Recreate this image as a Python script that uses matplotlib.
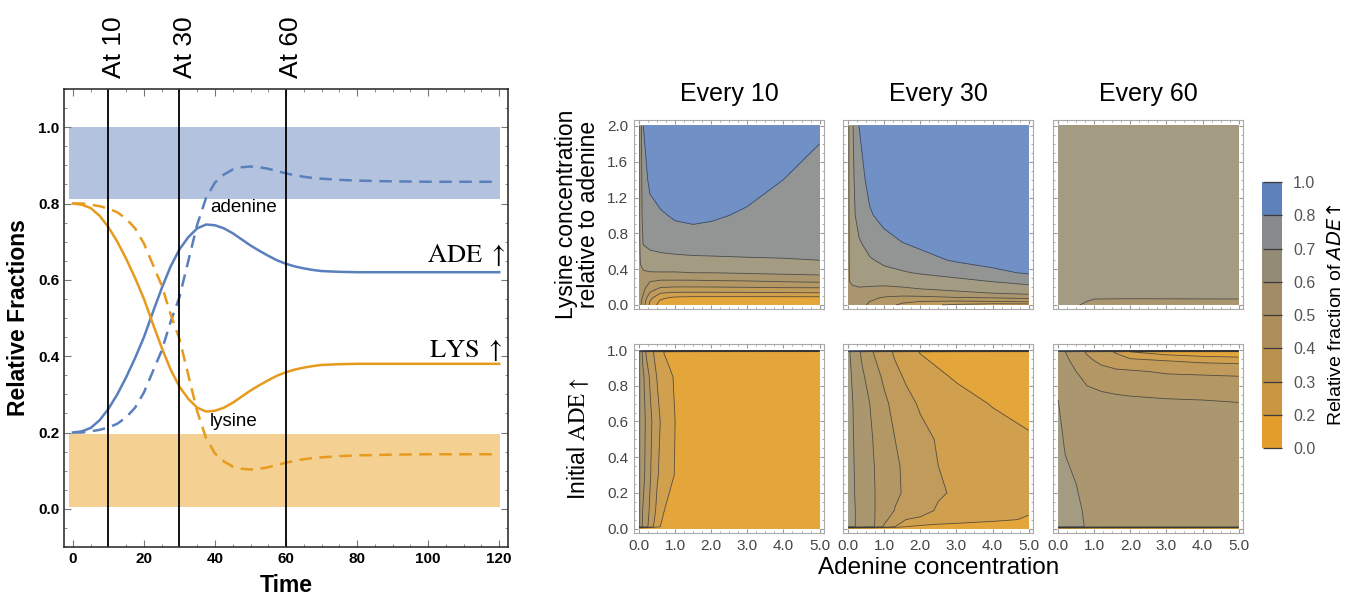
import numpy as np
import matplotlib as mpl
import matplotlib.pyplot as plt
from matplotlib.colors import ListedColormap, BoundaryNorm
from matplotlib.ticker import MultipleLocator

plt.rcParams['font.family'] = ['Liberation Sans', 'DejaVu Sans']

# ---- left panel: time courses ----
time = [0, 2.5, 5, 7.5, 10, 12.5, 15, 17.5, 20, 22.5, 25, 27.5, 30, 32.5, 35, 37.5, 40,
        42.5, 45, 47.5, 50, 52.5, 55, 57.5, 60, 62.5, 65, 67.5, 70, 75, 80, 90, 100, 110, 120]
ade_up = [0.200, 0.203, 0.212, 0.232, 0.262, 0.300, 0.345, 0.395, 0.450, 0.515, 0.578, 0.635,
          0.680, 0.712, 0.735, 0.745, 0.743, 0.735, 0.722, 0.706, 0.690, 0.676, 0.663, 0.651,
          0.642, 0.635, 0.630, 0.626, 0.623, 0.621, 0.620, 0.620, 0.620, 0.620, 0.620]
lys_up = [0.800, 0.797, 0.788, 0.768, 0.738, 0.700, 0.655, 0.605, 0.550, 0.485, 0.422, 0.365,
          0.320, 0.288, 0.265, 0.255, 0.257, 0.265, 0.278, 0.294, 0.310, 0.324, 0.337, 0.349,
          0.358, 0.365, 0.370, 0.374, 0.377, 0.379, 0.380, 0.380, 0.380, 0.380, 0.380]
adenine = [0.200, 0.200, 0.203, 0.207, 0.213, 0.223, 0.240, 0.265, 0.305, 0.360, 0.415, 0.490,
           0.555, 0.650, 0.745, 0.815, 0.855, 0.876, 0.889, 0.895, 0.897, 0.895, 0.891, 0.885,
           0.879, 0.874, 0.870, 0.867, 0.865, 0.862, 0.860, 0.858, 0.857, 0.857, 0.857]
lysine = [0.800, 0.800, 0.797, 0.793, 0.787, 0.777, 0.760, 0.735, 0.695, 0.640, 0.585, 0.510,
          0.445, 0.350, 0.255, 0.185, 0.145, 0.124, 0.111, 0.105, 0.103, 0.105, 0.109, 0.115,
          0.121, 0.126, 0.130, 0.133, 0.135, 0.138, 0.140, 0.142, 0.143, 0.143, 0.143]
band_t = [-1.2, 120.3]
ade_band = [0.813, 1.0]
lys_band = [0.006, 0.197]
sample_times = [10, 30, 60]

# ---- right panels: relative fraction of ADE-up ----
levels = [0.0, 0.2, 0.3, 0.4, 0.5, 0.6, 0.7, 0.8, 1.0]

xa = [0, 0.04, 0.12, 0.3, 0.6, 1.0, 1.5, 2.0, 3.0, 4.0, 5.0]
ya = [0, 0.04, 0.08, 0.12, 0.18, 0.26, 0.36, 0.5, 0.7, 1.0, 1.4, 2.0]
every10_lys = [
    [0.55, 0.52, 0.44, 0.28, 0.15, 0.08, 0.06, 0.05, 0.05, 0.05, 0.05],
    [0.55, 0.53, 0.45, 0.30, 0.18, 0.12, 0.10, 0.10, 0.10, 0.10, 0.10],
    [0.55, 0.54, 0.47, 0.33, 0.22, 0.18, 0.17, 0.17, 0.17, 0.17, 0.17],
    [0.55, 0.55, 0.50, 0.38, 0.28, 0.26, 0.26, 0.26, 0.26, 0.265, 0.27],
    [0.55, 0.55, 0.52, 0.44, 0.38, 0.37, 0.37, 0.37, 0.375, 0.38, 0.38],
    [0.55, 0.55, 0.54, 0.50, 0.48, 0.48, 0.48, 0.485, 0.49, 0.50, 0.51],
    [0.55, 0.58, 0.59, 0.595, 0.595, 0.595, 0.60, 0.60, 0.61, 0.62, 0.63],
    [0.55, 0.61, 0.64, 0.66, 0.67, 0.67, 0.675, 0.68, 0.69, 0.695, 0.70],
    [0.55, 0.64, 0.71, 0.73, 0.74, 0.76, 0.77, 0.765, 0.75, 0.74, 0.73],
    [0.55, 0.65, 0.74, 0.77, 0.79, 0.81, 0.815, 0.81, 0.79, 0.77, 0.76],
    [0.55, 0.65, 0.76, 0.82, 0.85, 0.87, 0.87, 0.86, 0.83, 0.80, 0.78],
    [0.55, 0.65, 0.80, 0.85, 0.88, 0.90, 0.90, 0.89, 0.87, 0.84, 0.81],
]
every30_lys = [
    [0.55, 0.56, 0.55, 0.52, 0.49, 0.44, 0.38, 0.33, 0.28, 0.25, 0.25],
    [0.55, 0.565, 0.56, 0.53, 0.50, 0.46, 0.42, 0.40, 0.39, 0.40, 0.42],
    [0.55, 0.57, 0.57, 0.54, 0.52, 0.49, 0.47, 0.47, 0.49, 0.50, 0.52],
    [0.55, 0.58, 0.58, 0.56, 0.55, 0.53, 0.53, 0.54, 0.57, 0.59, 0.60],
    [0.55, 0.59, 0.59, 0.595, 0.59, 0.585, 0.59, 0.60, 0.62, 0.64, 0.66],
    [0.55, 0.60, 0.61, 0.615, 0.62, 0.62, 0.63, 0.64, 0.67, 0.70, 0.73],
    [0.55, 0.61, 0.63, 0.645, 0.66, 0.675, 0.69, 0.71, 0.74, 0.78, 0.81],
    [0.55, 0.62, 0.64, 0.66, 0.69, 0.72, 0.75, 0.77, 0.81, 0.83, 0.84],
    [0.55, 0.62, 0.65, 0.69, 0.74, 0.77, 0.80, 0.82, 0.85, 0.86, 0.87],
    [0.55, 0.63, 0.67, 0.74, 0.79, 0.83, 0.86, 0.88, 0.90, 0.91, 0.91],
    [0.55, 0.64, 0.68, 0.76, 0.83, 0.87, 0.90, 0.91, 0.92, 0.93, 0.93],
    [0.55, 0.64, 0.69, 0.80, 0.86, 0.90, 0.92, 0.93, 0.94, 0.95, 0.95],
]
xc = [0, 0.3, 0.6, 1.0, 2.0, 5.0]
yc = [0, 0.04, 0.08, 0.2, 2.0]
every60_lys = [
    [0.65, 0.63, 0.60, 0.56, 0.55, 0.56],
    [0.65, 0.64, 0.62, 0.58, 0.57, 0.58],
    [0.65, 0.645, 0.63, 0.61, 0.61, 0.61],
    [0.65, 0.65, 0.65, 0.65, 0.65, 0.65],
    [0.65, 0.65, 0.65, 0.65, 0.65, 0.65],
]

xd = [0, 0.02, 0.1, 0.2, 0.3, 0.4, 0.5, 0.6, 0.7, 0.8, 1.0, 1.2, 2.0, 5.0]
yd = [0, 0.01, 0.1, 0.3, 0.6, 0.85, 0.99, 1.0]
every10_init = [
    [0.0] * 14,
    [0.65, 0.6, 0.488, 0.429, 0.367, 0.30, 0.244, 0.195, 0.18, 0.17, 0.155, 0.14, 0.10, 0.08],
    [0.65, 0.6, 0.50, 0.444, 0.388, 0.329, 0.28, 0.24, 0.20, 0.18, 0.16, 0.14, 0.10, 0.08],
    [0.65, 0.6, 0.538, 0.471, 0.412, 0.36, 0.31, 0.281, 0.258, 0.235, 0.195, 0.165, 0.10, 0.08],
    [0.65, 0.6, 0.547, 0.483, 0.428, 0.378, 0.335, 0.295, 0.271, 0.248, 0.20, 0.17, 0.10, 0.08],
    [0.65, 0.6, 0.527, 0.453, 0.39, 0.34, 0.295, 0.271, 0.248, 0.224, 0.19, 0.16, 0.10, 0.08],
    [0.65, 0.6, 0.478, 0.387, 0.343, 0.30, 0.263, 0.226, 0.195, 0.18, 0.16, 0.14, 0.10, 0.08],
    [1.0] * 14,
]
xe = [0, 0.05, 0.2, 0.4, 0.7, 1.0, 1.3, 1.6, 2.0, 2.5, 3.0, 4.0, 5.0]
ye = [0, 0.01, 0.05, 0.1, 0.2, 0.35, 0.5, 0.7, 0.85, 0.99, 1.0]
every30_init = [
    [0.0] * 13,
    [0.65, 0.638, 0.60, 0.566, 0.514, 0.386, 0.30, 0.20, 0.18, 0.16, 0.15, 0.13, 0.12],
    [0.65, 0.638, 0.60, 0.565, 0.512, 0.421, 0.356, 0.30, 0.287, 0.271, 0.255, 0.223, 0.19],
    [0.65, 0.638, 0.60, 0.564, 0.509, 0.45, 0.395, 0.367, 0.329, 0.29, 0.27, 0.24, 0.21],
    [0.65, 0.635, 0.595, 0.56, 0.507, 0.462, 0.419, 0.385, 0.354, 0.309, 0.29, 0.26, 0.23],
    [0.65, 0.633, 0.591, 0.556, 0.504, 0.459, 0.415, 0.382, 0.345, 0.30, 0.285, 0.257, 0.23],
    [0.65, 0.63, 0.586, 0.55, 0.497, 0.448, 0.40, 0.368, 0.326, 0.292, 0.272, 0.24, 0.21],
    [0.65, 0.625, 0.58, 0.54, 0.48, 0.42, 0.371, 0.329, 0.289, 0.262, 0.235, 0.195, 0.17],
    [0.65, 0.614, 0.566, 0.513, 0.444, 0.382, 0.327, 0.288, 0.256, 0.216, 0.19, 0.16, 0.14],
    [0.65, 0.60, 0.544, 0.478, 0.398, 0.339, 0.286, 0.245, 0.195, 0.17, 0.15, 0.12, 0.10],
    [1.0] * 13,
]
xf = [0, 0.2, 0.5, 0.8, 1.2, 1.6, 2.0, 3.0, 4.0, 5.0]
yf = [0, 0.01, 0.1, 0.25, 0.45, 0.6, 0.72, 0.8, 0.88, 0.94, 0.99, 1.0]
every60_init = [
    [0.0] * 10,
    [0.66, 0.65, 0.63, 0.59, 0.57, 0.56, 0.56, 0.56, 0.56, 0.56],
    [0.66, 0.64, 0.625, 0.58, 0.565, 0.56, 0.56, 0.56, 0.56, 0.56],
    [0.65, 0.62, 0.60, 0.57, 0.56, 0.555, 0.555, 0.555, 0.555, 0.555],
    [0.63, 0.595, 0.58, 0.565, 0.555, 0.55, 0.55, 0.55, 0.55, 0.55],
    [0.61, 0.585, 0.57, 0.56, 0.55, 0.545, 0.54, 0.54, 0.54, 0.54],
    [0.60, 0.57, 0.55, 0.54, 0.53, 0.52, 0.515, 0.505, 0.50, 0.495],
    [0.59, 0.56, 0.53, 0.50, 0.48, 0.47, 0.46, 0.45, 0.445, 0.44],
    [0.58, 0.54, 0.50, 0.46, 0.43, 0.415, 0.41, 0.39, 0.385, 0.38],
    [0.57, 0.52, 0.47, 0.42, 0.38, 0.35, 0.33, 0.30, 0.28, 0.27],
    [0.55, 0.50, 0.44, 0.39, 0.34, 0.29, 0.20, 0.15, 0.12, 0.10],
    [1.0] * 10,
]

panel_colors = ['#e4a53a', '#d0a04e', '#c09b5c', '#b39866', '#aa976f', '#a49b83', '#939594', '#7090c6']
cbar_colors = ['#e29d2a', '#c99540', '#bb914e', '#ae8e5a', '#a18c66', '#938b75', '#878a8b', '#5e80bb']

blue = '#5a7fbd'
orange = '#e69b1e'

fig = plt.figure(figsize=(13.48, 5.99), dpi=100)

ax = fig.add_axes([0.0475, 0.0868, 0.3294, 0.7646])
ax.fill_between(band_t, ade_band[0], ade_band[1], color='#b3c3df', lw=0)
ax.fill_between(band_t, lys_band[0], lys_band[1], color='#f4d192', lw=0)
ax.plot(time, ade_up, color=blue, lw=1.8)
ax.plot(time, lys_up, color=orange, lw=1.8)
ax.plot(time, adenine, color=blue, lw=1.8, dashes=(5, 3))
ax.plot(time, lysine, color=orange, lw=1.8, dashes=(5, 3))
for t in sample_times:
    ax.axvline(t, color='black', lw=1.3)
    ax.text(t + 1.5, 1.023, 'At %d' % t, transform=ax.get_xaxis_transform(),
            rotation=90, ha='center', va='bottom', fontsize=19)
ax.text(38.6, 0.779, 'adenine', fontsize=13.5)
ax.text(38.6, 0.216, 'lysine', fontsize=13.5)
ax.text(121.8, 0.648, r'$\mathrm{ADE}\ \uparrow$', math_fontfamily='stix', ha='right', fontsize=19)
ax.text(121.0, 0.397, r'$\mathrm{LYS}\ \uparrow$', math_fontfamily='stix', ha='right', fontsize=19)
ax.set_xlim(-2.5, 122.5)
ax.set_ylim(-0.1, 1.1)
ax.set_xticks([0, 20, 40, 60, 80, 100, 120])
ax.set_yticks([0, 0.2, 0.4, 0.6, 0.8, 1.0])
ax.set_yticklabels(['0.0', '0.2', '0.4', '0.6', '0.8', '1.0'])
ax.xaxis.set_minor_locator(MultipleLocator(5))
ax.yaxis.set_minor_locator(MultipleLocator(0.05))
ax.tick_params(which='both', direction='in', top=True, right=True, color='#777')
ax.tick_params(which='major', length=5, labelsize=11)
ax.tick_params(which='minor', length=2.5)
for lab in ax.get_xticklabels() + ax.get_yticklabels():
    lab.set_fontweight('bold')
for s in ax.spines.values():
    s.set_color('#333')
    s.set_linewidth(1.2)
ax.set_xlabel('Time', fontsize=16.5, fontweight='bold', labelpad=6)
ax.set_ylabel('Relative Fractions', fontsize=16.5, fontweight='bold', labelpad=6)

# ---- contour panels ----
panels = [
    (xa, ya, every10_lys, 0, 0, 'Every 10'),
    (xa, ya, every30_lys, 0, 1, 'Every 30'),
    (xc, yc, every60_lys, 0, 2, 'Every 60'),
    (xd, yd, every10_init, 1, 0, None),
    (xe, ye, every30_init, 1, 1, None),
    (xf, yf, every60_init, 1, 2, None),
]
col_left = [0.4703, 0.6254, 0.7812]
row_bottom = [0.4841, 0.1102]
pw, ph = 0.1409, 0.3155

for x, y, z, r, c, title in panels:
    pax = fig.add_axes([col_left[c], row_bottom[r], pw, ph])
    pax.contourf(x, y, np.array(z), levels=levels, colors=panel_colors)
    pax.contour(x, y, np.array(z), levels=levels[1:-1], colors='#333333', linewidths=0.6, alpha=0.75)
    pax.set_xlim(-0.14, 5.12)
    if r == 0:
        pax.set_ylim(-0.045, 2.065)
        pax.set_yticks([0, 0.4, 0.8, 1.2, 1.6, 2.0])
        pax.set_yticklabels(['0.0', '0.4', '0.8', '1.2', '1.6', '2.0'])
        pax.yaxis.set_minor_locator(MultipleLocator(0.1))
    else:
        pax.set_ylim(-0.025, 1.034)
        pax.set_yticks([0, 0.2, 0.4, 0.6, 0.8, 1.0])
        pax.set_yticklabels(['0.0', '0.2', '0.4', '0.6', '0.8', '1.0'])
        pax.yaxis.set_minor_locator(MultipleLocator(0.05))
    pax.set_xticks([0, 1, 2, 3, 4, 5])
    pax.set_xticklabels(['0.0', '1.0', '2.0', '3.0', '4.0', '5.0'])
    pax.xaxis.set_minor_locator(MultipleLocator(0.25))
    pax.tick_params(which='both', direction='in', top=True, right=True, color='#999',
                    labelsize=11, labelcolor='#444', pad=4)
    pax.tick_params(which='major', length=3)
    pax.tick_params(which='minor', length=1.5)
    if r == 0:
        pax.tick_params(labelbottom=False)
    if c != 0:
        pax.tick_params(labelleft=False)
    for s in pax.spines.values():
        s.set_color('#aaa')
        s.set_linewidth(0.8)
    if title:
        pax.set_title(title, fontsize=18, pad=14)
    if c == 0 and r == 0:
        pax.set_ylabel('Lysine concentration\nrelative to adenine', fontsize=16.5, linespacing=0.95, labelpad=5)
    if c == 0 and r == 1:
        pax.set_ylabel(r'Initial $\mathrm{ADE}\uparrow$', math_fontfamily='stix', fontsize=16.5, labelpad=12)

fig.text(0.696, 0.051, 'Adenine concentration', ha='center', va='center', fontsize=17.5)

cax = fig.add_axes([0.9362, 0.2521, 0.0148, 0.444])
sm = mpl.cm.ScalarMappable(norm=BoundaryNorm(levels, len(cbar_colors)), cmap=ListedColormap(cbar_colors))
cb = fig.colorbar(sm, cax=cax, ticks=levels)
cb.outline.set_visible(False)
cb.ax.set_yticklabels(['%.1f' % v for v in levels])
cax.tick_params(direction='in', length=14, width=0.9, color='#3a3a3a', labelsize=11.5, labelcolor='#555', pad=8)
cb.set_label(r'Relative fraction of $ADE\!\uparrow$', fontsize=14, labelpad=8)

fig.savefig('out.png', dpi=100)
